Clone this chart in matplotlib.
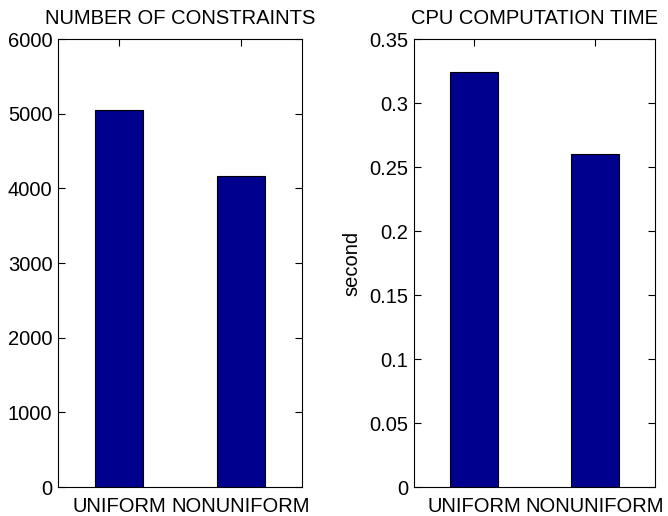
import matplotlib.pyplot as plt

plt.rcParams['font.family'] = ['Liberation Sans', 'DejaVu Sans']

# bar chart data
methods = ["UNIFORM", "NONUNIFORM"]
n_constraints = [5050, 4170]
cpu_time = [0.324, 0.260]

bar_color = "#00008f"

fig = plt.figure(figsize=(6.68, 5.16), dpi=100)
ax1 = fig.add_axes([0.0868, 0.0562, 0.3653, 0.868])
ax2 = fig.add_axes([0.6198, 0.0562, 0.3608, 0.868])


def matlab_bar(ax, values, ymax, yticks, yticklabels, title):
    x = range(1, len(values) + 1)
    ax.bar(x, values, width=0.4, color=bar_color, edgecolor="black", linewidth=0.8, zorder=2)
    ax.set_xlim(0.5, 2.5)
    ax.set_ylim(0, ymax)
    ax.set_xticks(list(x))
    ax.set_xticklabels(methods)
    ax.set_yticks(yticks)
    ax.set_yticklabels(yticklabels)
    ax.tick_params(direction="in", top=True, right=True, length=5, width=0.8,
                   labelsize=14.5, pad=4)
    ax.tick_params(axis="x", bottom=False, pad=7)
    for s in ax.spines.values():
        s.set_linewidth(0.8)
    ax.set_title(title, fontsize=14.5, pad=11)


matlab_bar(ax1, n_constraints, 6000,
           [0, 1000, 2000, 3000, 4000, 5000, 6000],
           ["0", "1000", "2000", "3000", "4000", "5000", "6000"],
           "NUMBER OF CONSTRAINTS")

matlab_bar(ax2, cpu_time, 0.35,
           [0, 0.05, 0.1, 0.15, 0.2, 0.25, 0.3, 0.35],
           ["0", "0.05", "0.1", "0.15", "0.2", "0.25", "0.3", "0.35"],
           "CPU COMPUTATION TIME")
ax2.set_ylabel("second", fontsize=14.5, labelpad=6)

fig.savefig("out.png", dpi=100)
